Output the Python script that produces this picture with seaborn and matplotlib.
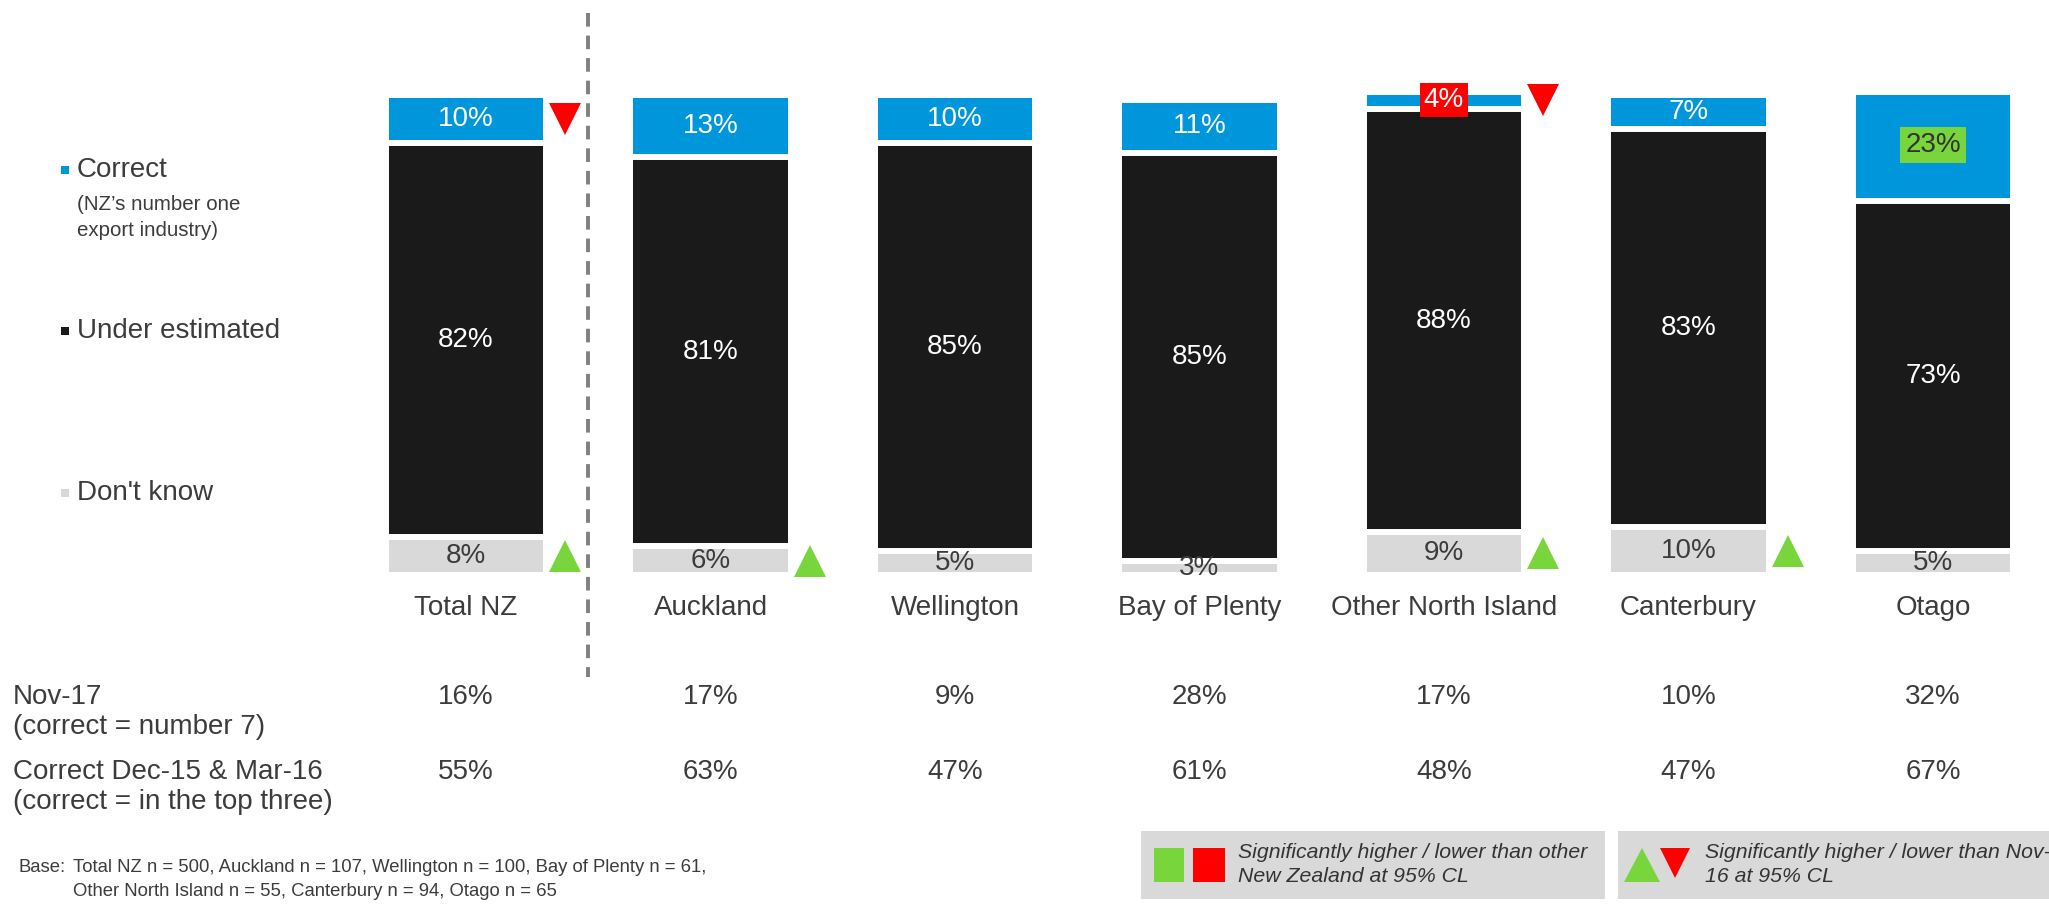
import matplotlib
matplotlib.use("Agg")
import pandas as pd
import matplotlib.pyplot as plt
from matplotlib import transforms
from matplotlib.lines import Line2D
from matplotlib.patches import Rectangle, Polygon
import seaborn as sns

# ─── Data ────────────────────────────────────────────────────────────────────
regions = ["Total NZ", "Auckland", "Wellington", "Bay of Plenty",
           "Other North Island", "Canterbury", "Otago"]
correct = [10, 13, 10, 11, 4, 7, 23]
under_estimated = [82, 81, 85, 85, 88, 83, 73]
dont_know = [8, 6, 5, 3, 9, 10, 5]

nov17 = [16, 17, 9, 28, 17, 10, 32]
dec15_mar16 = [55, 63, 47, 61, 48, 47, 67]

# significantly higher / lower than Nov-16 (triangles)
trend_flags = [("Total NZ", "correct", "down"), ("Total NZ", "dont_know", "up"),
               ("Auckland", "dont_know", "up"),
               ("Other North Island", "correct", "down"),
               ("Other North Island", "dont_know", "up"),
               ("Canterbury", "dont_know", "up")]
# significantly higher / lower than other New Zealand (boxed labels)
region_flags = [("Other North Island", "correct", "lower"), ("Otago", "correct", "higher")]

BLUE, BLACK, GREY = "#0096DB", "#1A1A1A", "#D9D9D9"
GREEN, RED, TXT = "#78D63C", "#FF0000", "#3C3C3C"

sns.set_style("white")
plt.rcParams["font.family"] = ["Liberation Sans", "DejaVu Sans"]

W, H = 2049, 907
fig = plt.figure(figsize=(W / 100, H / 100), dpi=100)


def fx(px):
    return px / W


def fy(py):
    return 1 - py / H


ax = fig.add_axes([fx(343.75), fy(575), 6.95 * 244.5 / W, 480 / H])

df = pd.DataFrame({"region": regions, "correct": correct,
                   "under": under_estimated, "dont_know": dont_know})
df["mid_top"] = df["under"] + df["dont_know"]
df["top"] = df["correct"] + df["mid_top"]

# stacked bars drawn as overlapping cumulative bars
bar_kw = dict(x="region", width=0.655, saturation=1, edgecolor="white",
              linewidth=4.3, errorbar=None, ax=ax)
sns.barplot(data=df, y="top", color=BLUE, **bar_kw)
sns.barplot(data=df, y="mid_top", color=BLACK, **bar_kw)
sns.barplot(data=df, y="dont_know", color=GREY, **bar_kw)

ax.set_xlim(-0.5, 6.45)
ax.set_ylim(0, 100)
ax.set_axis_off()

# ── segment labels ───────────────────────────────────────────────────────
centres = {"dont_know": df["dont_know"] / 2,
           "under": df["dont_know"] + df["under"] / 2,
           "correct": df["mid_top"] + df["correct"] / 2}
text_col = {"dont_know": TXT, "under": "white", "correct": "white"}
boxed = {(r, s): d for r, s, d in region_flags}

for i, reg in enumerate(regions):
    for seg in ["dont_know", "under", "correct"]:
        val = df.loc[i, seg]
        kw = dict(ha="center", va="center", fontsize=20, color=text_col[seg])
        flag = boxed.get((reg, seg))
        if flag == "lower":
            kw["bbox"] = dict(boxstyle="square,pad=0.15", fc=RED, ec="none")
            kw["color"] = "white"
        elif flag == "higher":
            kw["bbox"] = dict(boxstyle="square,pad=0.18", fc=GREEN, ec="none")
            kw["color"] = "#333333"
        ax.text(i, centres[seg][i], f"{val}%", **kw)

# ── trend triangles ──────────────────────────────────────────────────────
for reg, seg, direction in trend_flags:
    i = regions.index(reg)
    ax.plot(i + 0.405, centres[seg][i], marker="^" if direction == "up" else "v",
            ms=22.5, mew=0, color=GREEN if direction == "up" else RED,
            clip_on=False)

blend = transforms.blended_transform_factory(ax.transData, fig.transFigure)

# dashed separator after Total NZ
ax.plot([0.5, 0.5], [fy(13), fy(677)], transform=blend, clip_on=False,
        color="#808080", lw=2.8, linestyle=(0, (3.5, 2.3)))

# ── category labels and history rows ─────────────────────────────────────
for i, reg in enumerate(regions):
    ax.text(i, fy(608), reg, transform=blend, ha="center", va="center",
            fontsize=20, color=TXT)
    ax.text(i, fy(697), f"{nov17[i]}%", transform=blend, ha="center",
            va="center", fontsize=20, color=TXT)
    ax.text(i, fy(772), f"{dec15_mar16[i]}%", transform=blend, ha="center",
            va="center", fontsize=20, color=TXT)

row_labels = [("Nov-17", 697), ("(correct = number 7)", 727),
              ("Correct Dec-15 & Mar-16", 772), ("(correct = in the top three)", 802)]
for txt, py in row_labels:
    fig.text(fx(13), fy(py), txt, fontsize=20, va="center", color=TXT)

# ── left legend ──────────────────────────────────────────────────────────
for label, col, py in [("Correct", BLUE, 170), ("Under estimated", BLACK, 331),
                       ("Don't know", GREY, 493)]:
    fig.add_artist(Line2D([fx(65)], [fy(py)], marker="s", ms=6, mew=0,
                          color=col, transform=fig.transFigure))
    fig.text(fx(77), fy(py), label, fontsize=20, va="center", color=TXT)
fig.text(fx(77), fy(204), "(NZ’s number one", fontsize=14.8, va="center", color=TXT)
fig.text(fx(77), fy(230), "export industry)", fontsize=14.8, va="center", color=TXT)

# ── base note ────────────────────────────────────────────────────────────
fig.text(fx(18), fy(867), "Base:", fontsize=13.3, va="center", color=TXT)
fig.text(fx(73), fy(867), "Total NZ n = 500, Auckland n = 107, Wellington n = 100, "
         "Bay of Plenty n = 61,", fontsize=13.3, va="center", color=TXT)
fig.text(fx(73), fy(891), "Other North Island n = 55, Canterbury n = 94, Otago n = 65",
         fontsize=13.3, va="center", color=TXT)


# ── significance key boxes ───────────────────────────────────────────────
def box(x0, y0, x1, y1, col):
    fig.add_artist(Rectangle((fx(x0), fy(y1)), fx(x1) - fx(x0), (y1 - y0) / H,
                             transform=fig.transFigure, color=col, lw=0))


def tri(pts, col):
    fig.add_artist(Polygon([(fx(x), fy(y)) for x, y in pts], closed=True,
                           transform=fig.transFigure, color=col, lw=0))


box(1141, 831, 1605, 899, GREY)
box(1618, 831, 2060, 899, GREY)
box(1154, 848, 1184, 882, GREEN)
box(1193, 848, 1225, 882, RED)
tri([(1624, 882), (1660, 882), (1642, 848)], GREEN)
tri([(1660, 848), (1690, 848), (1675, 878)], RED)

key_kw = dict(fontsize=15.3, style="italic", va="center", color="#333333")
fig.text(fx(1238), fy(852), "Significantly higher / lower than other", **key_kw)
fig.text(fx(1238), fy(877), "New Zealand at 95% CL", **key_kw)
fig.text(fx(1705), fy(852), "Significantly higher / lower than Nov-", **key_kw)
fig.text(fx(1705), fy(877), "16 at 95% CL", **key_kw)

fig.savefig("out.png", dpi=100)
